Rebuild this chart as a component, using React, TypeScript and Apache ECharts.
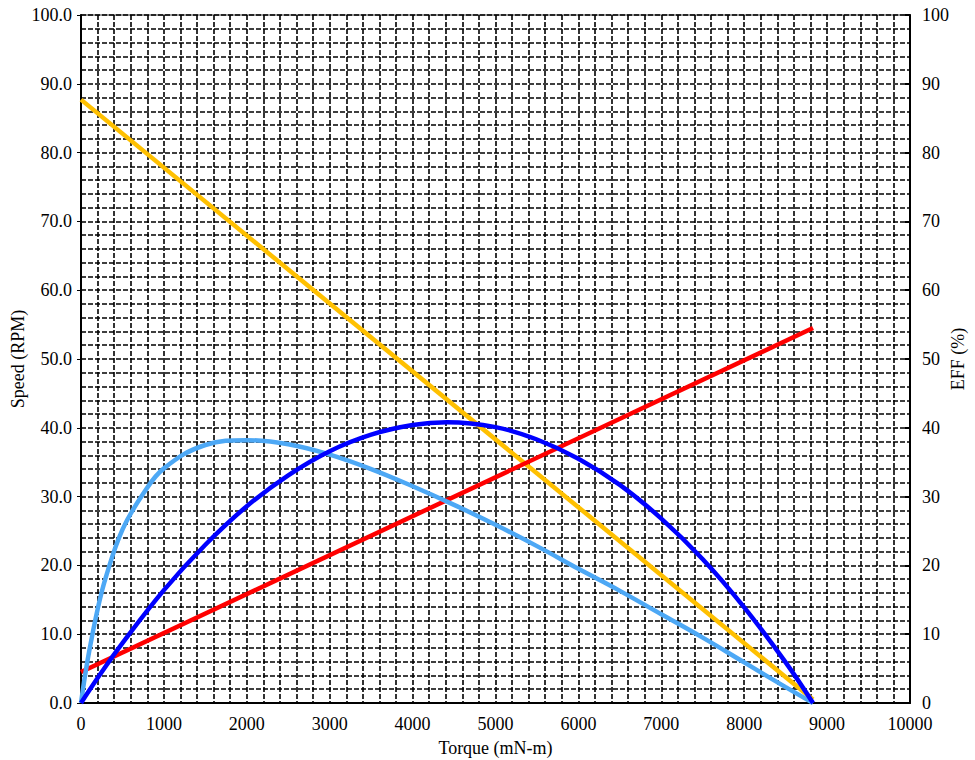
import React, { useEffect, useRef } from "react";
import * as echarts from "echarts";

const torqueTicks = [0, 1000, 2000, 3000, 4000, 5000, 6000, 7000, 8000, 9000, 10000];

// Speed line (orange)
const speedData: [number, number][] = [[0, 87.7], [8830, 0.5]];
// Current line (red)
const currentData: [number, number][] = [[0, 4.5], [8830, 54.5]];
// Output power (dark blue)
const powerData: [number, number][] = [
  [0, 0], [250, 4.5], [500, 8.7], [1000, 16.4], [1500, 23.0], [2000, 28.6], [2500, 33.1],
  [3000, 36.6], [3500, 39.0], [4000, 40.4], [4415, 40.8], [5000, 40.1], [5500, 38.3],
  [6000, 35.5], [6500, 31.7], [7000, 26.8], [7500, 20.9], [8000, 13.9], [8500, 5.9], [8830, 0],
];
// Efficiency (light blue)
const effData: [number, number][] = [
  [0, 0], [50, 4.1], [100, 7.6], [200, 13.6], [300, 18.3], [500, 25.2], [750, 30.4],
  [1000, 34.1], [1500, 37.5], [2000, 38.2], [2500, 37.6], [3000, 36.1], [3500, 34.0],
  [4000, 31.5], [4500, 28.8], [5000, 25.9], [5500, 22.8], [6000, 19.5], [6500, 16.3],
  [7000, 12.9], [7500, 9.5], [8000, 5.9], [8500, 2.3], [8830, 0],
];

const font = "'Liberation Serif', 'Times New Roman', serif";

export default function App() {
  const ref = useRef<HTMLDivElement>(null);
  useEffect(() => {
    const chart = echarts.init(ref.current!, null, { renderer: "svg" });
    const dash = { color: "#000", width: 1.6, type: [5, 2] as number[] };
    const label = { color: "#000", fontFamily: font, fontSize: 18 };
    chart.setOption({
      animation: false,
      backgroundColor: "#fff",
      grid: {
        left: 81, right: 65, top: 15, bottom: 57, containLabel: false, outerBoundsMode: "none",
        show: true, borderColor: "#999", borderWidth: 2,
      },
      xAxis: {
        type: "value", min: 0, max: 10000, interval: 1000,
        name: "Torque (mN-m)", nameLocation: "middle", nameGap: 36, nameMoveOverlap: false,
        nameTextStyle: { color: "#000", fontFamily: font, fontSize: 18 },
        axisLine: { show: true, lineStyle: { color: "#000", width: 2 } },
        axisTick: { show: false },
        axisLabel: { ...label, margin: 12, formatter: (v: number) => String(v) },
        splitLine: { show: true, lineStyle: dash },
        minorTick: { show: false, splitNumber: 5 },
        minorSplitLine: { show: true, lineStyle: dash },
      },
      yAxis: [
        {
          type: "value", min: 0, max: 100, interval: 10, position: "left",
          name: "Speed (RPM)", nameLocation: "middle", nameGap: 54, nameRotate: 90, nameMoveOverlap: false,
          nameTextStyle: { color: "#000", fontFamily: font, fontSize: 18 },
          axisLine: { show: true, lineStyle: { color: "#000", width: 2 } },
          axisTick: { show: true, inside: false, length: 4, lineStyle: { color: "#000" } },
          axisLabel: { ...label, margin: 9, formatter: (v: number) => v.toFixed(1) },
          splitLine: { show: true, lineStyle: dash },
          minorTick: { show: false, splitNumber: 5 },
          minorSplitLine: { show: true, lineStyle: dash },
        },
        {
          type: "value", min: 0, max: 100, interval: 10, position: "right",
          name: "EFF (%)", nameLocation: "middle", nameGap: 39, nameRotate: 90, nameMoveOverlap: false,
          nameTextStyle: { color: "#000", fontFamily: font, fontSize: 18 },
          axisLine: { show: true, lineStyle: { color: "#000", width: 2 } },
          axisTick: { show: true, inside: true, length: 5, lineStyle: { color: "#000", width: 2 } },
          axisLabel: { ...label, margin: 12, formatter: (v: number) => String(v) },
          splitLine: { show: false },
        },
      ],
      series: [
        { type: "line", data: speedData, yAxisIndex: 0, symbol: "none", lineStyle: { color: "#FFC000", width: 4.5 } },
        { type: "line", data: currentData, yAxisIndex: 0, symbol: "none", lineStyle: { color: "#FF0000", width: 4.5 } },
        { type: "line", data: effData, yAxisIndex: 1, symbol: "none", smooth: 0.4, lineStyle: { color: "#4DA8F5", width: 4.5 } },
        { type: "line", data: powerData, yAxisIndex: 0, symbol: "none", smooth: 0.4, lineStyle: { color: "#0000FF", width: 4.5 } },
      ],
    });
    return () => chart.dispose();
  }, []);
  return <div ref={ref} style={{ position: "fixed", left: 0, top: 0, width: 975, height: 760 }} />;
}
